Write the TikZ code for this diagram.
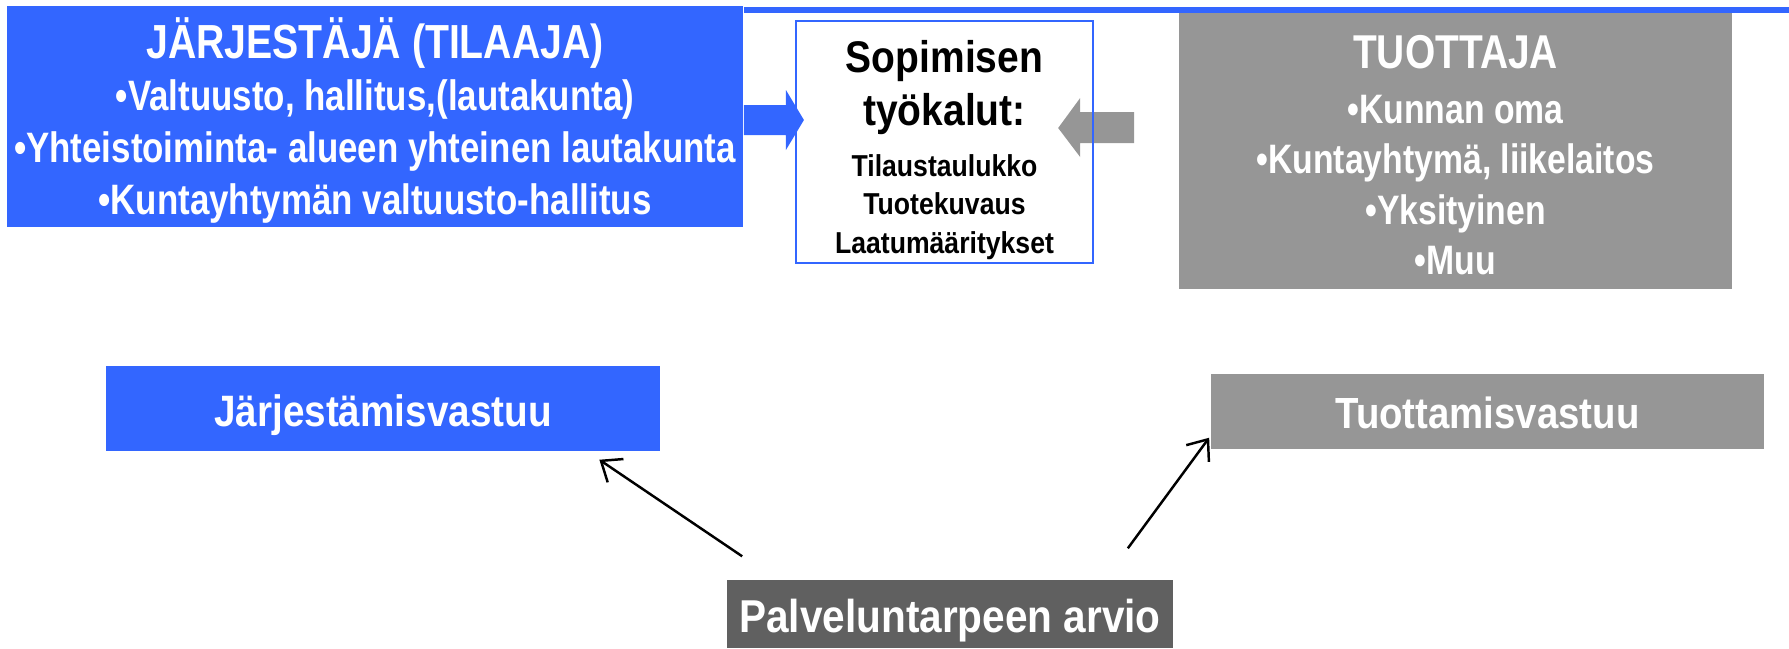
\documentclass[tikz,border=0pt]{standalone}
\usepackage{fontspec}
\setmainfont{Liberation Sans}[FakeStretch=0.88]
\newfontfamily\narrowfont{Liberation Sans}[FakeStretch=0.82]
\usetikzlibrary{arrows.meta,backgrounds}
\definecolor{jblue}{HTML}{3366FF}
\definecolor{tgray}{HTML}{969696}
\definecolor{pgray}{HTML}{606060}
\tikzstyle{bx}=[rectangle, inner sep=0pt, align=center, text=white, font=\bfseries\fontsize{12.5}{15}\selectfont]
\tikzstyle{resp}=[draw=black, line width=0.7pt, -{Straight Barb[length=5pt,width=8pt]}]
\newcommand{\bx}{\node[bx]}

\begin{document}
\begin{tikzpicture}[x=0.01cm,y=-0.01cm]
\useasboundingbox (0,0) rectangle (1789,648);
\bx[fill=jblue, minimum width=7.36cm, minimum height=2.21cm, font=\narrowfont\bfseries\fontsize{12.1}{14.8}\selectfont] (jarj) at (375,116.5)
	{{\fontsize{13.6}{14.8}\selectfont\rule{0pt}{13.8pt}JÄRJESTÄJÄ (TILAAJA)}\\•Valtuusto, hallitus,(lautakunta)\\•Yhteistoiminta- alueen yhteinen lautakunta\\•Kuntayhtymän valtuusto-hallitus};
\bx[draw=jblue, line width=0.6pt, text=black, minimum width=2.97cm, minimum height=2.42cm, font=\bfseries\fontsize{8.6}{10.9}\selectfont] (sop) at (944.5,142)
	{{\fontsize{12.6}{15}\selectfont\rule{0pt}{13.6pt}Sopimisen}\\[2.4pt]{\fontsize{12.6}{15}\selectfont työkalut:}\\[3.5pt]Tilaustaulukko\\Tuotekuvaus\\Laatumääritykset};
\bx[fill=tgray, minimum width=5.53cm, minimum height=2.76cm, font=\narrowfont\bfseries\fontsize{11.7}{14.4}\selectfont] (tuot) at (1455.5,151)
	{{\fontsize{13.5}{14.4}\selectfont\rule{0pt}{12pt}TUOTTAJA}\\[1pt]•Kunnan oma\\•Kuntayhtymä, liikelaitos\\•Yksityinen\\•Muu};
\bx[fill=jblue, minimum width=5.53cm, minimum height=0.85cm, text height=10.25pt, text depth=0pt] (jvas) at (383,408.5) {Järjestämisvastuu};
\bx[fill=tgray, minimum width=5.53cm, minimum height=0.75cm, text height=9.75pt, text depth=0pt, font=\bfseries\fontsize{12.4}{15}\selectfont] (tvas) at (1487.5,411.5) {Tuottamisvastuu};
\bx[fill=pgray, minimum width=4.46cm, minimum height=0.68cm, text height=10.5pt, text depth=0pt, font=\bfseries\fontsize{13.1}{15}\selectfont] (pal) at (950,614) {Palveluntarpeen arvio};
\coordinate (edge) at (1789,10);
\draw[jblue, line width=1.7pt] (jarj.north east |- edge) -- (edge);
\begin{scope}[on background layer]
\fill[jblue] ([shift={(0,-11.5)}]jarj.east) -- ++(42,0) -- ++(0,-15) -- ++(18,30) -- ++(-18,30) -- ++(0,-15) -- ++(-42,0) -- cycle;
\fill[tgray] ([shift={(-36,-14)}]sop.east) -- ++(22,-30) -- ++(0,14) -- ++(54,0) -- ++(0,31) -- ++(-54,0) -- ++(0,14) -- cycle;
\end{scope}
\draw[resp] ([shift={(16,-23)}]pal.north west) -- ([shift={(-61,8)}]jvas.south east);
\draw[resp] ([shift={(-46,-31)}]pal.north east) -- ([shift={(-1,-12)}]tvas.south west);
\end{tikzpicture}
\end{document}
